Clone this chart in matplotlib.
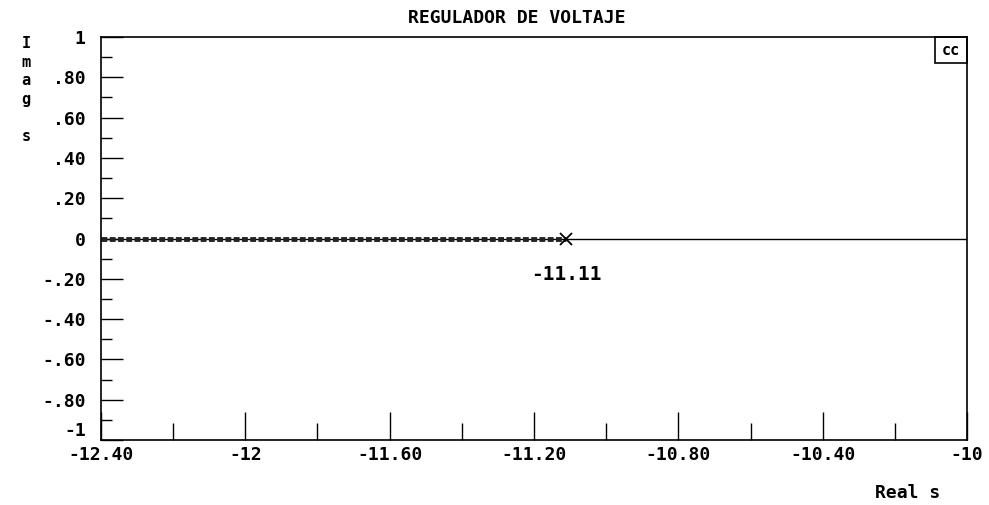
import matplotlib
matplotlib.use('Agg')
import matplotlib.pyplot as plt
from matplotlib.patches import Rectangle
from matplotlib.transforms import ScaledTranslation

# datos del lugar de raices
titulo = 'REGULADOR DE VOLTAJE'
locus_real = [-12.40, -11.11]
locus_imag = [0, 0]
polo_real = [-11.11]
polo_imag = [0]
etiqueta_polo = '-11.11'

x_ticks = [-12.40, -12.0, -11.60, -11.20, -10.80, -10.40, -10.0]
x_labels = ['-12.40', '-12', '-11.60', '-11.20', '-10.80', '-10.40', '-10']
y_ticks = [1, 0.8, 0.6, 0.4, 0.2, 0, -0.2, -0.4, -0.6, -0.8, -1]
y_labels = ['1', '.80', '.60', '.40', '.20', '0', '-.20', '-.40', '-.60', '-.80', '-1']

plt.rcParams['font.family'] = ['DejaVu Sans Mono']
plt.rcParams['font.weight'] = 'bold'

fig = plt.figure(figsize=(9.89, 5.05), dpi=100)
ax = fig.add_axes([0.1021, 0.1287, 0.8757, 0.798])

# eje real
ax.axhline(0, color='black', lw=1)
# rama del lugar (puntos densos)
ax.plot(locus_real, locus_imag, color='#222222', lw=3.5, linestyle=(0, (1.2, 0.5)))
ax.plot(polo_real, polo_imag, marker='x', color='black', ms=9, mew=1.3, ls='none')
ax.text(polo_real[0], -0.18, etiqueta_polo, ha='center', va='center', fontsize=14)

ax.set_xlim(-12.40, -10.0)
ax.set_ylim(-1, 1)
ax.set_xticks(x_ticks)
ax.set_xticklabels(x_labels, fontsize=13)
ax.set_xticks([-12.2, -11.8, -11.4, -11.0, -10.6, -10.2], minor=True)
ax.set_yticks(y_ticks)
ax.set_yticklabels(y_labels, fontsize=13)
ax.set_yticks([0.9, 0.7, 0.5, 0.3, 0.1, -0.1, -0.3, -0.5, -0.7, -0.9], minor=True)
ax.tick_params(which='major', direction='in', length=16, width=1)
ax.tick_params(which='minor', direction='in', length=8, width=1)
ax.tick_params(axis='y', which='major', pad=11)
ax.tick_params(axis='x', which='major', length=20, pad=4)
ax.tick_params(axis='x', which='minor', length=12)
for s in ax.spines.values():
    s.set_linewidth(1.2)

# subir la etiqueta -1 para que no choque con -12.40
lab = ax.get_yticklabels()[-1]
lab.set_transform(lab.get_transform() + ScaledTranslation(0, 8 / 72, fig.dpi_scale_trans))

# cajita arriba a la derecha
ax.add_patch(Rectangle((0.963, 0.935), 0.037, 0.065, transform=ax.transAxes,
                       fill=False, lw=1.2, clip_on=False))
ax.text(0.9815, 0.9675, 'cc', transform=ax.transAxes, ha='center', va='center', fontsize=11)

fig.text(517 / 989, 1 - 18 / 505, titulo, ha='center', va='center', fontsize=13)
fig.text(26 / 989, 1 - 90 / 505, 'I\nm\na\ng\n\ns', ha='center', va='center',
         fontsize=11, linespacing=1.3)
fig.text(908 / 989, 1 - 493 / 505, 'Real s', ha='center', va='center', fontsize=13)

fig.savefig('out.png', dpi=100)
